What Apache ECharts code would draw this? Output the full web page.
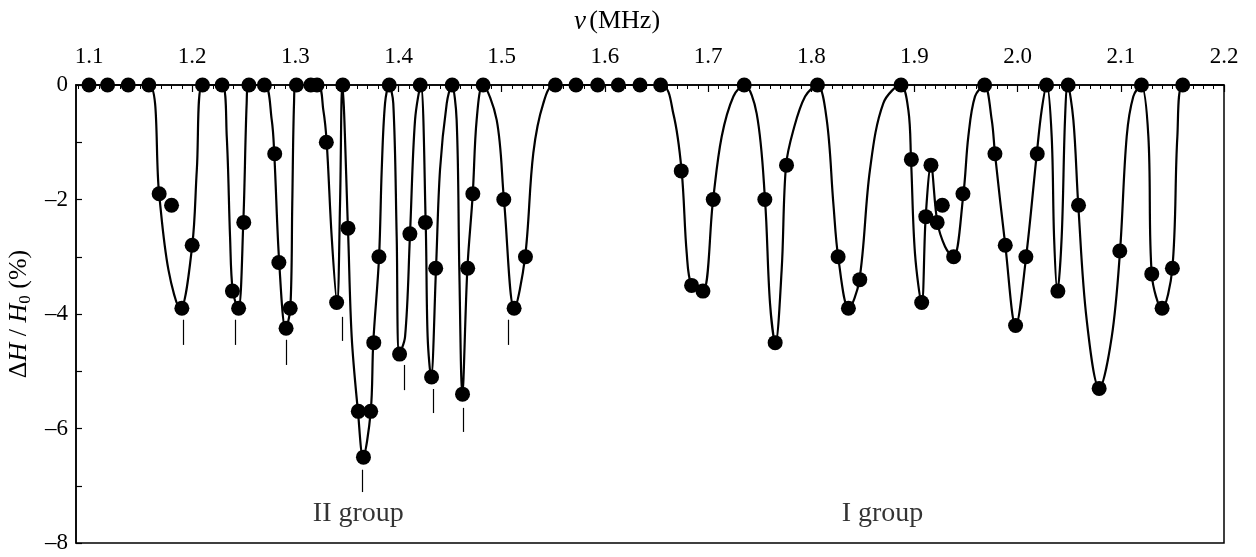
<!DOCTYPE html>
<html>
<head>
<meta charset="utf-8">
<script src="https://cdn.jsdelivr.net/npm/echarts@6/dist/echarts.min.js"></script>
<style>
html,body{margin:0;padding:0;background:#fff;}
#chart{width:1256px;height:557px;}
</style>
</head>
<body>
<div id="chart"></div>
<script>
// ---- data ----
// measured points (frequency MHz, ΔH/H0 %)
const dotFreq = [1.100,1.118,1.138,1.158,1.168,1.180,1.190,1.200,1.210,1.229,1.239,1.245,1.250,1.255,1.270,1.280,1.284,1.291,1.295,1.301,1.315,1.321,1.330,1.340,1.346,1.351,1.361,1.366,1.373,1.376,1.381,1.391,1.401,1.411,1.421,1.426,1.432,1.436,1.452,1.462,1.467,1.472,1.482,1.502,1.512,1.523,1.552,1.572,1.593,1.613,1.634,1.654,1.674,1.684,1.695,1.705,1.735,1.755,1.765,1.776,1.806,1.826,1.836,1.847,1.887,1.897,1.907,1.911,1.916,1.922,1.927,1.938,1.947,1.968,1.978,1.988,1.998,2.008,2.019,2.028,2.039,2.049,2.059,2.079,2.099,2.120,2.130,2.140,2.150,2.160];
const dotValue = [0,0,0,0,-1.9,-2.1,-3.9,-2.8,0,0,-3.6,-3.9,-2.4,0,0,-1.2,-3.1,-4.25,-3.9,0,0,0,-1.0,-3.8,0,-2.5,-5.7,-6.5,-5.7,-4.5,-3.0,0,-4.7,-2.6,0,-2.4,-5.1,-3.2,0,-5.4,-3.2,-1.9,0,-2.0,-3.9,-3.0,0,0,0,0,0,0,-1.5,-3.5,-3.6,-2.0,0,-2.0,-4.5,-1.4,0,-3.0,-3.9,-3.4,0,-1.3,-3.8,-2.3,-1.4,-2.4,-2.1,-3.0,-1.9,0,-1.2,-2.8,-4.2,-3.0,-1.2,0,-3.6,0,-2.1,-5.3,-2.9,0,-3.3,-3.9,-3.2,0];

// fitted curve
const curveFreq = [1.100,1.158,1.168,1.177,1.1885,1.200,1.2045,1.210,1.229,1.2335,1.2367,1.2393,1.2447,1.2495,1.2528,1.2548,1.270,1.2771,1.2796,1.2844,1.2906,1.2951,1.297,1.2987,1.3006,1.3213,1.3271,1.3304,1.3352,1.3404,1.3433,1.3455,1.351,1.3546,1.3607,1.3656,1.373,1.3755,1.3811,1.3837,1.3869,1.3908,1.3949,1.3982,1.4007,1.4063,1.4111,1.416,1.4215,1.4263,1.4282,1.4315,1.4363,1.4402,1.4467,1.4515,1.4563,1.4589,1.4618,1.4667,1.4719,1.4757,1.4816,1.4951,1.5022,1.5122,1.5226,1.5306,1.5403,1.5516,1.6541,1.6663,1.6744,1.6793,1.6841,1.6948,1.7048,1.7132,1.7245,1.7351,1.7471,1.7552,1.760,1.7652,1.7713,1.7755,1.7826,1.794,1.8059,1.815,1.8214,1.8262,1.8363,1.8466,1.8569,1.8698,1.8867,1.8941,1.8967,1.9005,1.907,1.9109,1.916,1.9222,1.9296,1.9377,1.9474,1.9522,1.9587,1.9677,1.9749,1.9781,1.9881,1.9981,2.0081,2.0185,2.0233,2.0282,2.033,2.0353,2.0385,2.0427,2.0459,2.0485,2.054,2.0588,2.0669,2.0792,2.0912,2.0992,2.1057,2.1121,2.1196,2.1267,2.130,2.1399,2.1499,2.1548,2.160,2.200];
const curveValue = [0,0,-1.91,-3.23,-3.91,-2.81,-1.48,0,0,-0.9,-2.65,-3.6,-3.91,-2.42,-0.32,0,0,-0.61,-1.22,-3.11,-4.26,-3.91,-2.07,-0.32,0,0,-0.44,-1.01,-2.65,-3.81,-2.07,0,-2.52,-4.4,-5.71,-6.5,-5.71,-4.5,-3.01,-1.48,-0.32,0,-0.32,-2.65,-4.7,-4.4,-2.61,-0.61,0,-2.41,-4.4,-5.1,-3.21,-1.48,-0.32,0,-0.61,-3.23,-5.41,-3.21,-1.91,-0.61,0,-0.61,-2.01,-3.91,-3.01,-1.19,-0.32,0,0,-0.5,-1.51,-2.94,-3.51,-3.61,-2.01,-0.9,-0.2,0,-0.5,-2.01,-3.81,-4.51,-3.23,-1.41,-0.79,-0.2,0,-0.61,-2.07,-3.02,-3.91,-3.41,-1.48,-0.32,0,-0.44,-1.31,-2.94,-3.81,-2.3,-1.41,-2.4,-2.82,-3.02,-1.91,-0.9,-0.2,0,-0.61,-1.21,-2.81,-4.21,-3.02,-1.21,-0.44,0,-0.9,-2.65,-3.61,-2.65,-0.61,0,-0.61,-2.11,-4.1,-5.3,-4.4,-2.91,-0.9,-0.2,0,-0.9,-3.31,-3.91,-3.21,-0.9,0,0];

// short resonance markers (II group): frequency, top, bottom
const markFreq = [1.1914,1.2415,1.2916,1.3457,1.3646,1.406,1.4334,1.4625,1.5061];
const markTop = [-4.10,-4.10,-4.45,-4.05,-6.72,-4.89,-5.31,-5.64,-4.10];
const markBottom = [-4.54,-4.54,-4.89,-4.47,-7.11,-5.33,-5.73,-6.06,-4.54];

// group annotations
const groupNames = ['II group','I group'];
const groupFreq = [1.361,1.869];
const groupValue = [-7.48,-7.48];

// axis ticks
const xTickLabels = [1.1,1.2,1.3,1.4,1.5,1.6,1.7,1.8,1.9,2.0,2.1,2.2];
const xMin = 1.0874, xMax = 2.2;
const yMin = -8, yMax = 0;

// ---- build ----
const minorTicks = [];
for (let i = 109; i <= 220; i++) minorTicks.push(i / 100);

const FONT = '"Liberation Serif","Times New Roman",serif';

const curveData = curveFreq.map((f, i) => [f, curveValue[i]]);
const dotData = dotFreq.map((f, i) => [f, dotValue[i]]);
const markData = markFreq.map((f, i) => [{coord: [f, markTop[i]]}, {coord: [f, markBottom[i]]}]);
const groupData = groupNames.map((n, i) => ({name: n, value: [groupFreq[i], groupValue[i]]}));

const chart = echarts.init(document.getElementById('chart'), null, {renderer: 'canvas'});
chart.setOption({
  animation: false,
  backgroundColor: '#fff',
  grid: {left: 76, right: 32, top: 85, bottom: 14, show: true, borderColor: '#000', borderWidth: 1.5, outerBoundsMode: 'none', containLabel: false},
  xAxis: [{
    type: 'value', position: 'top', min: xMin, max: xMax,
    name: '{it|ν} {n|(MHz)}', nameLocation: 'middle', nameGap: 50,
    nameTextStyle: {padding: [0, 66, 0, 0], rich: {
      it: {fontFamily: FONT, fontSize: 27, fontStyle: 'italic', color: '#000'},
      n: {fontFamily: FONT, fontSize: 26, color: '#000'}
    }},
    axisLine: {show: true, lineStyle: {color: '#000', width: 1.5}},
    axisTick: {show: true, inside: true, length: 7, customValues: xTickLabels, lineStyle: {color: '#000', width: 1.2}},
    axisLabel: {show: true, customValues: xTickLabels, margin: 17, fontFamily: FONT, fontSize: 23, color: '#000', formatter: v => v.toFixed(1)},
    splitLine: {show: false}
  }, {
    type: 'value', position: 'top', min: xMin, max: xMax, gridIndex: 0,
    axisLine: {show: false},
    axisTick: {show: true, inside: true, length: 4, customValues: minorTicks, lineStyle: {color: '#000', width: 1}},
    axisLabel: {show: false},
    splitLine: {show: false}
  }],
  yAxis: {
    type: 'value', min: yMin, max: yMax, interval: 1,
    name: '{d|Δ}{it|H}{n| / }{it|H}{sub|0}{n| (%)}', nameLocation: 'middle', nameGap: 37, nameRotate: 90,
    nameTextStyle: {rich: {
      d: {fontFamily: FONT, fontSize: 26, color: '#000', lineHeight: 30},
      it: {fontFamily: FONT, fontSize: 26, fontStyle: 'italic', color: '#000', lineHeight: 30},
      n: {fontFamily: FONT, fontSize: 26, color: '#000', lineHeight: 30},
      sub: {fontFamily: FONT, fontSize: 17, color: '#000', verticalAlign: 'bottom', lineHeight: 30, padding: [13, 0, 0, 0]}
    }},
    axisLine: {show: true, lineStyle: {color: '#000', width: 1.5}},
    axisTick: {show: true, inside: true, length: 6, lineStyle: {color: '#000', width: 1.2}},
    axisLabel: {fontFamily: FONT, fontSize: 23, color: '#000', margin: 8,
      formatter: v => (Math.round(v) % 2 === 0 ? (v < 0 ? '\u2013' + Math.abs(v) : String(v)) : '')},
    splitLine: {show: false}
  },
  series: [{
    type: 'line', name: 'fit', data: curveData, smooth: 0.35, symbol: 'none',
    lineStyle: {color: '#000', width: 2.2}, clip: true, z: 2,
    markLine: {silent: true, symbol: ['none', 'none'], label: {show: false},
      lineStyle: {color: '#000', width: 1.2, type: 'solid'}, data: markData}
  }, {
    type: 'scatter', name: 'measured', data: dotData, symbol: 'circle', symbolSize: 15,
    itemStyle: {color: '#000', opacity: 1}, clip: false, z: 3
  }, {
    type: 'scatter', name: 'groups', data: groupData, symbolSize: 0, silent: true,
    label: {show: true, position: 'inside', formatter: p => p.name, fontFamily: FONT, fontSize: 28, color: '#000'}
  }]
});
</script>
</body>
</html>
